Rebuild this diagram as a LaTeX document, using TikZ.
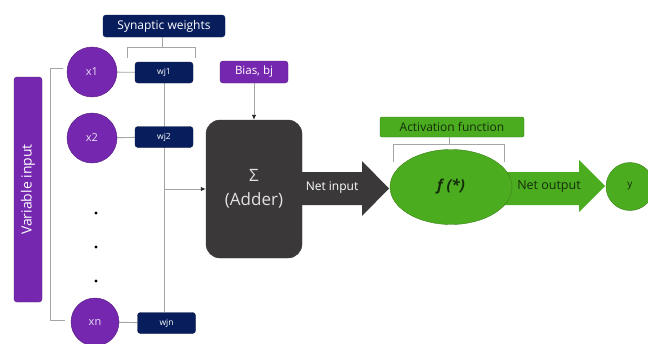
\documentclass[tikz,border=0pt]{standalone}
\usepackage{fontspec}
\setmainfont{Open Sans}
\usetikzlibrary{arrows.meta,shapes.geometric}
\pgfdeclarelayer{background}
\pgfsetlayers{background,main}
\definecolor{vpurple}{RGB}{117,40,175}
\definecolor{vnavy}{RGB}{8,30,92}
\definecolor{vgreen}{RGB}{76,172,32}
\definecolor{vdark}{RGB}{58,56,56}
\definecolor{vline}{RGB}{165,165,165}
\definecolor{vgtext}{RGB}{20,45,10}
\definecolor{vltext}{RGB}{225,225,225}
\begin{document}
\begin{tikzpicture}[x=1pt,y=-1pt,
  line/.style={draw=vline, line width=0.9pt},
  arr/.style={line, -{Latex[length=5pt,width=4.5pt,color=black!85]}},
  pbox/.style={fill=vpurple, draw=vpurple!70!black, line width=0.4pt, rounded corners=3pt, text=white, inner sep=0pt},
  nbox/.style={fill=vnavy, draw=vnavy!70!black, line width=0.4pt, rounded corners=3pt, text=white, inner sep=0pt},
  gbox/.style={fill=vgreen, draw=vgreen!70!black, line width=0.4pt, rounded corners=2pt, text=vgtext, inner sep=0pt},
  incircle/.style={circle, fill=vpurple, draw=vpurple!70!black, line width=0.4pt, text=white!85!vpurple, inner sep=0pt, font=\fontsize{11}{13}\selectfont},
  wbox/.style={nbox, minimum width=58pt, minimum height=21pt, font=\fontsize{8.5}{10}\selectfont},
  dotn/.style={circle, fill=black, inner sep=0pt, minimum size=3.2pt}
]
\useasboundingbox (0,0) rectangle (648,343);

% variable input bar
\node[pbox, rotate=90, minimum width=225pt, minimum height=28pt, font=\fontsize{14}{16}\selectfont] (var) at (28,189.5) {Variable input};

% inputs
\node[incircle, minimum size=50pt] (x1) at (92,72) {x1};
\node[incircle, minimum size=50pt] (x2) at (92,138) {x2};
\node[incircle, minimum size=48pt] (xn) at (95,322) {xn};
\node[dotn] (d1) at (96,213) {};
\node[dotn] (d2) at (96,247) {};
\node[dotn] (d3) at (96,281) {};

% weights
\node[wbox] (w1) at (164,72.5) {wj1};
\node[wbox] (w2) at (164,137) {wj2};
\node[wbox] (wn) at (166.5,323) {wjn};
\node[nbox, minimum width=122pt, minimum height=22pt, font=\fontsize{12}{14}\selectfont] (syn) at (164,26) {Synaptic weights};

% bias and adder
\node[pbox, minimum width=68pt, minimum height=22pt, font=\fontsize{11.5}{13}\selectfont] (bias) at (254,72) {Bias, bj};
\node[fill=vdark, draw=vdark, rounded corners=14pt, minimum width=96pt, minimum height=138pt, text=vltext, align=center, font=\fontsize{17}{24}\selectfont] (adder) at (254,189) {Σ\\(Adder)};

% net input arrow
\fill[vdark] (301,172) -- (362,172) -- (362,161) -- (389,188.5) -- (362,216) -- (362,205) -- (301,205) -- cycle;
\node[text=white, font=\fontsize{12}{14}\selectfont] (ni) at (332,188) {Net input};

% net output arrow
\fill[vgreen] (495,172) -- (579,172) -- (579,160) -- (605,186) -- (579,212) -- (579,205) -- (495,205) -- cycle;
\node[text=vgtext, font=\fontsize{12.5}{14}\selectfont] (no) at (549,187) {Net output};

% activation ellipse
\node[ellipse, fill=vgreen, draw=vgreen!75!black, line width=0.4pt, minimum width=122pt, minimum height=75pt, text=vgtext, font=\fontsize{15}{17}\selectfont\bfseries\itshape] (act) at (451,187) {f (*)};
\node[gbox, minimum width=144pt, minimum height=20pt, font=\fontsize{12}{14}\selectfont] (actl) at (452,127) {Activation function};

% output
\node[circle, fill=vgreen, draw=vgreen!75!black, line width=0.4pt, minimum size=48pt, text=vgtext, font=\fontsize{10}{12}\selectfont] (y) at (630,186.5) {y};

% connectors (behind the boxes)
\begin{pgfonlayer}{background}
\draw[line] (x1) -- (w1);
\draw[line] (x2) -- (w2);
\draw[line] (xn) -- (wn);
\draw[line] (w1.south) -- (w1.south |- wn.north);
\end{pgfonlayer}
\draw[arr] (w1.south |- adder.west) -- (adder.west);
\draw[arr] (bias.south) -- (bias.south |- adder.north);

% left bracket
\coordinate (lbt) at (63,68);
\coordinate (lbb) at (65,320);
\draw[line] (lbt) -- (50,68) -- (50,320) -- (lbb);

% synaptic bracket
\draw[line, line width=0.7pt] (127,58) -- (127,47) -- (195,47) -- (195,58);
\draw[line, line width=0.7pt] (162,47) -- (syn.south -| 162,0);

% activation bracket
\draw[line, line width=0.7pt] (393,162) -- (393,144) -- (504,144) -- (504,162);
\draw[line, line width=0.7pt] (449,144) -- (actl.south -| 449,0);
\end{tikzpicture}
\end{document}
